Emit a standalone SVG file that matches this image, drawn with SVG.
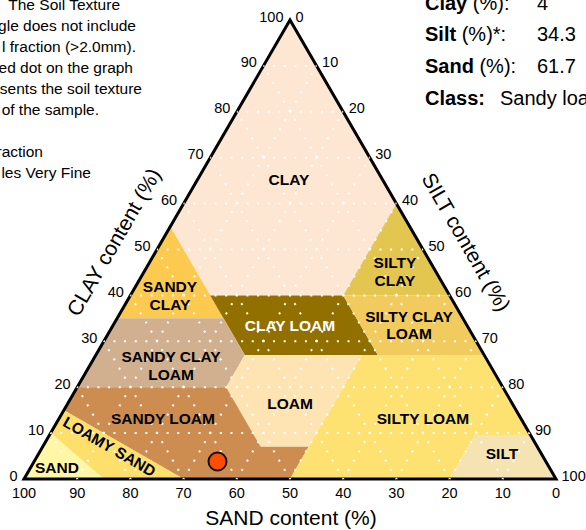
<svg xmlns="http://www.w3.org/2000/svg" width="586" height="530" viewBox="0 0 586 530">
<style>
text{font-family:"Liberation Sans",Arial,Helvetica,sans-serif;fill:#000}
.note{font-size:15.5px;text-anchor:end}
.info{font-size:20px}
.b{font-weight:bold}
.tick{font-size:14.5px}
.tl{text-anchor:end}
.tb{text-anchor:middle}
.lab{font-size:15.5px;font-weight:bold;text-anchor:middle}
.axis{font-size:21px;text-anchor:middle}
.grid line{stroke:#fff;stroke-width:2;stroke-dasharray:2 8.64;stroke-dashoffset:1;fill:none}
.reg{stroke:none}
</style>
<rect width="586" height="530" fill="#fff"/>

<g id="note-text">
<text class="note" x="120" y="9.5">The Soil Texture</text>
<text class="note" x="136" y="30.5">gle does not include</text>
<text class="note" x="136" y="51.5">l fraction (&gt;2.0mm).</text>
<text class="note" x="133" y="72.5">ed dot on the graph</text>
<text class="note" x="142" y="93.5">sents the soil texture</text>
<text class="note" x="99" y="114.5">of the sample.</text>
<text class="note" x="43" y="156.5">raction</text>
<text class="note" x="91" y="177.5">les Very Fine</text>
</g>

<g id="sample-info">
<text class="info" x="425" y="9.5"><tspan class="b">Clay</tspan> (%):</text>
<text class="info" x="537" y="9.5">4</text>
<text class="info" x="425" y="41"><tspan class="b">Silt</tspan> (%)*:</text>
<text class="info" x="537" y="41">34.3</text>
<text class="info" x="425" y="73"><tspan class="b">Sand</tspan> (%):</text>
<text class="info" x="537" y="73">61.7</text>
<text class="info" x="425" y="105"><tspan class="b">Class:</tspan></text>
<text class="info" x="500" y="105">Sandy loa</text>
</g>

<g id="clay"><polygon class="reg" fill="#fde6d2" points="210.2,295.4 343.2,295.4 396.4,203.6 290,20 170.3,226.55"/></g>
<g id="sandy-clay"><polygon class="reg" fill="#fdca50" points="117.1,318.35 223.5,318.35 170.3,226.55"/></g>
<g id="silty-clay"><polygon class="reg" fill="#e3c650" points="343.2,295.4 449.6,295.4 396.4,203.6"/></g>
<g id="clay-loam"><polygon class="reg" fill="#927000" points="244.78,355.07 377.78,355.07 343.2,295.4 210.2,295.4"/></g>
<g id="silty-clay-loam"><polygon class="reg" fill="#f2cb5e" points="377.78,355.07 484.18,355.07 449.6,295.4 343.2,295.4"/></g>
<g id="sandy-clay-loam"><polygon class="reg" fill="#d0b08f" points="77.2,387.2 226.16,387.2 244.78,355.07 223.5,318.35 117.1,318.35"/></g>
<g id="loam"><polygon class="reg" fill="#fde4b2" points="260.74,446.87 308.62,446.87 361.82,355.07 244.78,355.07 226.16,387.2"/></g>
<g id="sandy-loam"><polygon class="reg" fill="#cd8d50" points="183.6,479 290,479 308.62,446.87 260.74,446.87 226.16,387.2 77.2,387.2 63.9,410.15"/></g>
<g id="silty-loam"><polygon class="reg" fill="#fde271" points="290,479 449.6,479 475.1,435 530.5,435 484.18,355.07 361.82,355.07 308.62,446.87"/></g>
<g id="silt"><polygon class="reg" fill="#f5e3b2" points="449.6,479 556,479 530.5,435 475.1,435"/></g>
<g id="loamy-sand"><polygon class="reg" fill="#fde06c" points="103.8,479 183.6,479 63.9,410.15 50.6,433.1"/></g>
<g id="sand"><polygon class="reg" fill="#fff6a6" points="24,479 103.8,479 50.6,433.1"/></g>

<polygon id="frame" points="24,479 556,479 290,20" fill="none" stroke="#000" stroke-width="3" stroke-linejoin="miter"/>

<g id="connectors" class="grid">
<line x1="50.6" y1="433.1" x2="529.4" y2="433.1"/>
<line x1="77.2" y1="387.2" x2="502.8" y2="387.2"/>
<line x1="103.8" y1="341.3" x2="476.2" y2="341.3"/>
<line x1="130.4" y1="295.4" x2="449.6" y2="295.4"/>
<line x1="157" y1="249.5" x2="423" y2="249.5"/>
<line x1="183.6" y1="203.6" x2="396.4" y2="203.6"/>
<line x1="210.2" y1="157.7" x2="369.8" y2="157.7"/>
<line x1="236.8" y1="111.8" x2="343.2" y2="111.8"/>
<line x1="263.4" y1="65.9" x2="316.6" y2="65.9"/>
<line x1="77.2" y1="479" x2="316.6" y2="65.9"/>
<line x1="130.4" y1="479" x2="343.2" y2="111.8"/>
<line x1="183.6" y1="479" x2="369.8" y2="157.7"/>
<line x1="236.8" y1="479" x2="396.4" y2="203.6"/>
<line x1="290" y1="479" x2="423" y2="249.5"/>
<line x1="343.2" y1="479" x2="449.6" y2="295.4"/>
<line x1="396.4" y1="479" x2="476.2" y2="341.3"/>
<line x1="449.6" y1="479" x2="502.8" y2="387.2"/>
<line x1="502.8" y1="479" x2="529.4" y2="433.1"/>
<line x1="502.8" y1="479" x2="263.4" y2="65.9"/>
<line x1="449.6" y1="479" x2="236.8" y2="111.8"/>
<line x1="396.4" y1="479" x2="210.2" y2="157.7"/>
<line x1="343.2" y1="479" x2="183.6" y2="203.6"/>
<line x1="290" y1="479" x2="157" y2="249.5"/>
<line x1="236.8" y1="479" x2="130.4" y2="295.4"/>
<line x1="183.6" y1="479" x2="103.8" y2="341.3"/>
<line x1="130.4" y1="479" x2="77.2" y2="387.2"/>
<line x1="77.2" y1="479" x2="50.6" y2="433.1"/>
</g>

<g id="region-labels">
<text class="lab" x="289" y="185">CLAY</text>
<text class="lab" x="170" y="292">SANDY</text>
<text class="lab" x="170" y="310">CLAY</text>
<text class="lab" x="395" y="268">SILTY</text>
<text class="lab" x="395" y="286">CLAY</text>
<text class="lab" x="290" y="331" style="fill:#fff">CLAY LOAM</text>
<text class="lab" x="409" y="322">SILTY CLAY</text>
<text class="lab" x="409" y="339">LOAM</text>
<text class="lab" x="171" y="362">SANDY CLAY</text>
<text class="lab" x="171" y="380">LOAM</text>
<text class="lab" x="290" y="409">LOAM</text>
<text class="lab" x="163" y="424">SANDY LOAM</text>
<text class="lab" x="423" y="424">SILTY LOAM</text>
<text class="lab" x="502" y="459">SILT</text>
<text class="lab" x="57" y="473">SAND</text>
<text class="lab" transform="translate(109.5,446.5) rotate(30)" x="0" y="5.5">LOAMY SAND</text>
</g>

<g id="sample-point"><circle cx="217.5" cy="461.5" r="9" fill="#ff4d00" stroke="#111" stroke-width="2"/></g>

<g id="clay-axis" class="tick">
<text class="tl" x="17.5" y="480.5">0</text>
<text class="tl" x="44.1" y="434.6">10</text>
<text class="tl" x="70.7" y="388.7">20</text>
<text class="tl" x="97.3" y="342.8">30</text>
<text class="tl" x="123.9" y="296.9">40</text>
<text class="tl" x="150.5" y="251">50</text>
<text class="tl" x="177.1" y="205.1">60</text>
<text class="tl" x="203.7" y="159.2">70</text>
<text class="tl" x="230.3" y="113.3">80</text>
<text class="tl" x="256.9" y="67.4">90</text>
<text class="tl" x="283.5" y="21.5">100</text>
</g>
<g id="silt-axis" class="tick">
<text x="295.5" y="21.5">0</text>
<text x="322.1" y="67.4">10</text>
<text x="348.7" y="113.3">20</text>
<text x="375.3" y="159.2">30</text>
<text x="401.9" y="205.1">40</text>
<text x="428.5" y="251">50</text>
<text x="455.1" y="296.9">60</text>
<text x="481.7" y="342.8">70</text>
<text x="508.3" y="388.7">80</text>
<text x="534.9" y="434.6">90</text>
<text x="561.5" y="480.5">100</text>
</g>
<g id="sand-axis" class="tick">
<text class="tb" x="24" y="498">100</text>
<text class="tb" x="77.2" y="498">90</text>
<text class="tb" x="130.4" y="498">80</text>
<text class="tb" x="183.6" y="498">70</text>
<text class="tb" x="236.8" y="498">60</text>
<text class="tb" x="290" y="498">50</text>
<text class="tb" x="343.2" y="498">40</text>
<text class="tb" x="396.4" y="498">30</text>
<text class="tb" x="449.6" y="498">20</text>
<text class="tb" x="502.8" y="498">10</text>
<text class="tb" x="556" y="498">0</text>
</g>

<g id="axis-titles">
<text class="axis" x="291" y="525">SAND content (%)</text>
<text class="axis" transform="translate(113.5,242) rotate(-60)" x="0" y="7.5">CLAY content (%)</text>
<text class="axis" transform="translate(466.5,242) rotate(60)" x="0" y="7.5">SILT content (%)</text>
</g>
</svg>
